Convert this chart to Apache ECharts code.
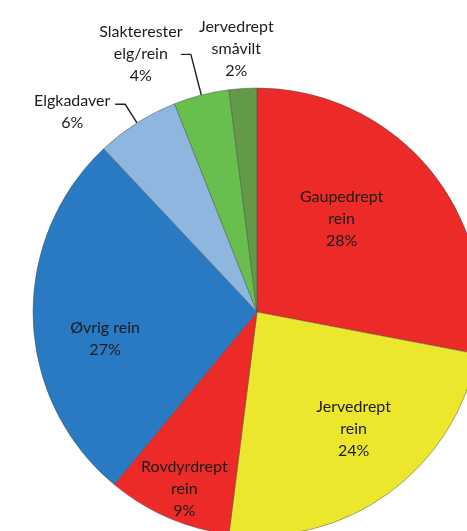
<!DOCTYPE html>
<html>
<head>
<meta charset="utf-8">
<script src="https://cdn.jsdelivr.net/npm/echarts@6/dist/echarts.min.js"></script>
<style>
html,body{margin:0;padding:0;background:#fff;}
#c{width:467px;height:531px;}
</style>
</head>
<body>
<div id="c"></div>
<script>
const categories = ['Gaupedrept\nrein', 'Jervedrept\nrein', 'Rovdyrdrept\nrein', 'Øvrig rein', 'Elgkadaver', 'Slakterester\nelg/rein', 'Jervedrept\nsmåvilt'];
const values = [28, 24, 9, 27, 6, 4, 2];
const palette = ['#EC2B29', '#ECE72C', '#EC2B29', '#2A79C3', '#8EB7E0', '#68BF4E', '#639A48'];

const inside = [true, true, true, true, false, false, false];
const labelShift = [[-4, -20], [29, 24], [-27, 71], [-37, 23], [-38, 8], [-35, -1], [-1, -30]];
const lineLen = [[0, 0], [0, 0], [0, 0], [0, 0], [22, 10], [42, 10], [10, 0]];

const data = categories.map((name, i) => ({
  name: name,
  value: values[i],
  itemStyle: { color: palette[i] },
  label: { position: inside[i] ? 'inside' : 'outside' },
  labelLine: {
    show: !inside[i] && i !== 6,
    length: lineLen[i][0],
    length2: lineLen[i][1],
    lineStyle: { color: '#222', width: 1.4 }
  }
}));

const chart = echarts.init(document.getElementById('c'), null, { renderer: 'canvas' });
chart.setOption({
  backgroundColor: '#fff',
  animation: false,
  series: [{
    type: 'pie',
    center: [257, 312],
    radius: [0, 224],
    startAngle: 90,
    clockwise: true,
    avoidLabelOverlap: false,
    data: data,
    itemStyle: { borderColor: 'rgba(70,70,70,0.55)', borderWidth: 0.8 },
    label: {
      show: true,
      fontFamily: 'Lato',
      fontSize: 16,
      lineHeight: 22,
      color: '#1c1c1c',
      align: 'center',
      formatter: p => p.name + '\n' + p.value + '%'
    },
    labelLayout: function (params) {
      const s = labelShift[params.dataIndex];
      return { align: 'center', dx: s[0], dy: s[1] };
    },
    emphasis: { disabled: true }
  }]
});
</script>
</body>
</html>
